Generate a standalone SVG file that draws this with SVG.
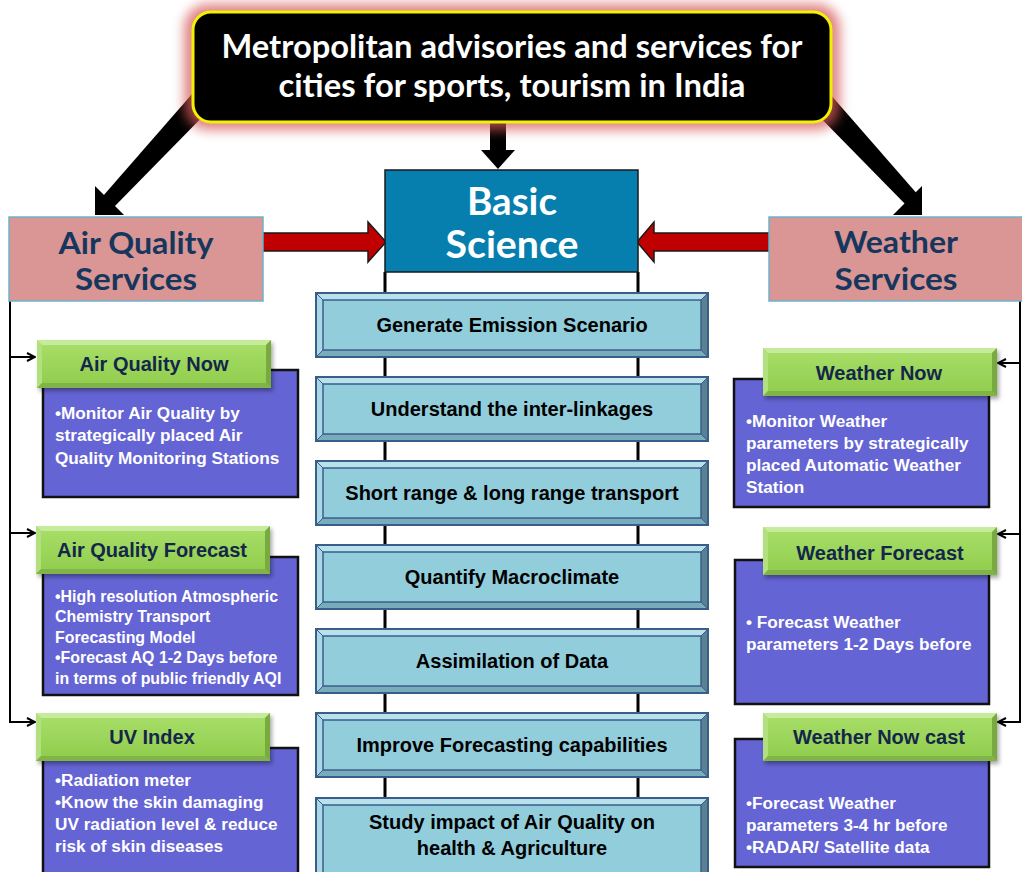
<svg xmlns="http://www.w3.org/2000/svg" xmlns:xlink="http://www.w3.org/1999/xlink" width="1022" height="872" viewBox="0 0 1022 872">
  <style>
    .title { font-family: Lato, "Open Sans", sans-serif; font-weight: 700; fill: #ffffff; }
    .svc { font-family: Lato, "Open Sans", sans-serif; font-weight: 700; fill: #17365d; font-size: 31px; }
    .step { font-family: "Liberation Sans", Arial, sans-serif; font-weight: 700; fill: #000000; font-size: 20px; }
    .head { font-family: "Liberation Sans", Arial, sans-serif; font-weight: 700; fill: #14264a; font-size: 20px; }
    .body { font-family: "Liberation Sans", Arial, sans-serif; font-weight: 700; fill: #ffffff; font-size: 17.2px; }
    .body.small { font-size: 15.9px; }
    .purple { fill: #6464d4; stroke: #111111; stroke-width: 2.5; }
    .thin { fill: none; stroke: #000000; stroke-width: 2; }
    .rail { stroke: #000000; stroke-width: 3; }
  </style>
  <defs>
    <filter id="glow" x="-20%" y="-40%" width="140%" height="180%">
      <feGaussianBlur stdDeviation="6"/>
    </filter>
    <filter id="shadow" x="-10%" y="-20%" width="125%" height="150%">
      <feDropShadow dx="2" dy="3" stdDeviation="2" flood-color="#000000" flood-opacity="0.35"/>
    </filter>
    <linearGradient id="greenFill" x1="0" y1="0" x2="0" y2="1">
      <stop offset="0" stop-color="#a9df6a"/>
      <stop offset="1" stop-color="#8fcc4c"/>
    </linearGradient>
    <marker id="open" viewBox="0 0 10 10" refX="9" refY="5" markerWidth="10" markerHeight="10" markerUnits="userSpaceOnUse" orient="auto">
      <path d="M1,1 L9,5 L1,9" fill="none" stroke="#000000" stroke-width="2"/>
    </marker>
    <!-- bevelled step plate, 394 x 66 -->
    <g id="plate">
      <rect x="0" y="0" width="394" height="66" fill="#92cddc"/>
      <polygon points="0,0 394,0 386,8 8,8" fill="#b9e1eb"/>
      <polygon points="0,0 8,8 8,58 0,66" fill="#a9d8e4"/>
      <polygon points="394,0 394,66 386,58 386,8" fill="#5b8090"/>
      <polygon points="0,66 8,58 386,58 394,66" fill="#78acbb"/>
      <path d="M0,0 L8,8 M394,0 L386,8 M0,66 L8,58 M394,66 L386,58" stroke="#3a5e8c" stroke-width="1"/>
      <rect x="8" y="8" width="378" height="50" fill="none" stroke="#3a5e8c" stroke-width="1.5"/>
      <rect x="1" y="1" width="392" height="64" fill="none" stroke="#3a5e8c" stroke-width="2"/>
    </g>
    <!-- taller plate for the last step -->
    <g id="plateTall">
      <rect x="0" y="0" width="394" height="90" fill="#92cddc"/>
      <polygon points="0,0 394,0 386,8 8,8" fill="#b9e1eb"/>
      <polygon points="0,0 8,8 8,82 0,90" fill="#a9d8e4"/>
      <polygon points="394,0 394,90 386,82 386,8" fill="#5b8090"/>
      <polygon points="0,90 8,82 386,82 394,90" fill="#78acbb"/>
      <path d="M0,0 L8,8 M394,0 L386,8" stroke="#3a5e8c" stroke-width="1"/>
      <rect x="8" y="8" width="378" height="74" fill="none" stroke="#3a5e8c" stroke-width="1.5"/>
      <rect x="1" y="1" width="392" height="88" fill="none" stroke="#3a5e8c" stroke-width="2"/>
    </g>
    <!-- green header tab, 234 x 48 -->
    <g id="tab">
      <rect x="0" y="0" width="234" height="48" fill="url(#greenFill)"/>
      <polygon points="0,0 234,0 229,5 5,5" fill="#c6eb9c"/>
      <polygon points="0,0 5,5 5,43 0,48" fill="#b2e07e"/>
      <polygon points="234,0 234,48 229,43 229,5" fill="#78aa40"/>
      <polygon points="0,48 5,43 229,43 234,48" fill="#80b448"/>
    </g>
  </defs>

  <rect width="1022" height="872" fill="#ffffff"/>

  <!-- connectors -->
  <g id="connectors">
    <!-- vertical rails behind the science steps -->
    <line class="rail" x1="385" y1="272" x2="385" y2="872"/>
    <line class="rail" x1="638" y1="272" x2="638" y2="872"/>

    <!-- heavy black arrows from the headline -->
    <g fill="#000000">
      <polygon points="199,86 216,103 114,207 103,196"/>
      <polygon points="95,215 95,186 124,215"/>
      <polygon points="823,86 806,103 908,207 919,196"/>
      <polygon points="922,215 922,186 893,215"/>
      <rect x="490" y="118" width="16" height="34"/>
      <polygon points="481,150 515,150 498,169"/>
    </g>

    <!-- red arrows into Basic Science -->
    <g fill="#c00000" stroke="#1a1a1a" stroke-width="1.5" stroke-linejoin="miter">
      <polygon points="263,233 368,233 368,222 386,242 368,262 368,251 263,251"/>
      <polygon points="769,233 654,233 654,222 637,242 654,262 654,251 769,251"/>
    </g>

    <!-- left service branches -->
    <path class="thin" d="M10,301 V722 H35" marker-end="url(#open)"/>
    <path class="thin" d="M10,357 H35" marker-end="url(#open)"/>
    <path class="thin" d="M10,533 H35" marker-end="url(#open)"/>

    <!-- right service branches -->
    <path class="thin" d="M1020,301 V722 H998" marker-end="url(#open)"/>
    <path class="thin" d="M1020,363 H998" marker-end="url(#open)"/>
    <path class="thin" d="M1020,534 H998" marker-end="url(#open)"/>
  </g>

  <!-- headline -->
  <g id="headline">
    <rect x="184" y="4" width="656" height="126" rx="24" fill="#d65a5a" opacity="0.75" filter="url(#glow)"/>
    <rect x="193" y="12" width="638" height="110" rx="18" fill="#000000" stroke="#f2f200" stroke-width="3"/>
    <text class="title" x="512" y="58" text-anchor="middle" font-size="33" textLength="581" lengthAdjust="spacingAndGlyphs">Metropolitan advisories and services for</text>
    <text class="title" x="512" y="97" text-anchor="middle" font-size="33" textLength="467" lengthAdjust="spacingAndGlyphs">cities for sports, tourism in India</text>
  </g>

  <!-- Basic Science -->
  <g id="basic-science">
    <rect x="385" y="170" width="253" height="102" fill="#077fae" stroke="#1a1a1a" stroke-width="1.5"/>
    <text class="title" x="512" y="215" text-anchor="middle" font-size="38" textLength="90" lengthAdjust="spacingAndGlyphs">Basic</text>
    <text class="title" x="512" y="258" text-anchor="middle" font-size="38" textLength="133" lengthAdjust="spacingAndGlyphs">Science</text>
  </g>

  <!-- Air Quality Services -->
  <g id="air-quality-services">
    <rect x="9" y="217" width="254" height="84" fill="#d99694" stroke="#6fb2cc" stroke-width="1.5"/>
    <text class="svc" x="136" y="254" text-anchor="middle" textLength="155" lengthAdjust="spacingAndGlyphs">Air Quality</text>
    <text class="svc" x="136" y="290" text-anchor="middle" textLength="122" lengthAdjust="spacingAndGlyphs">Services</text>
  </g>

  <!-- Weather Services -->
  <g id="weather-services">
    <rect x="769" y="217" width="260" height="84" fill="#d99694" stroke="#6fb2cc" stroke-width="1.5"/>
    <text class="svc" x="896" y="253" text-anchor="middle" textLength="124" lengthAdjust="spacingAndGlyphs">Weather</text>
    <text class="svc" x="896" y="290" text-anchor="middle" textLength="123" lengthAdjust="spacingAndGlyphs">Services</text>
  </g>

  <!-- science steps -->
  <g id="step-emission">
    <use xlink:href="#plate" x="315" y="292"/>
    <text class="step" x="512" y="332" text-anchor="middle">Generate Emission Scenario</text>
  </g>
  <g id="step-linkages">
    <use xlink:href="#plate" x="315" y="376"/>
    <text class="step" x="512" y="416" text-anchor="middle">Understand the inter-linkages</text>
  </g>
  <g id="step-transport">
    <use xlink:href="#plate" x="315" y="460"/>
    <text class="step" x="512" y="500" text-anchor="middle">Short range &amp; long range transport</text>
  </g>
  <g id="step-macroclimate">
    <use xlink:href="#plate" x="315" y="544"/>
    <text class="step" x="512" y="584" text-anchor="middle">Quantify Macroclimate</text>
  </g>
  <g id="step-assimilation">
    <use xlink:href="#plate" x="315" y="628"/>
    <text class="step" x="512" y="668" text-anchor="middle">Assimilation of Data</text>
  </g>
  <g id="step-forecasting">
    <use xlink:href="#plate" x="315" y="712"/>
    <text class="step" x="512" y="752" text-anchor="middle">Improve Forecasting capabilities</text>
  </g>
  <g id="step-impact">
    <use xlink:href="#plateTall" x="315" y="797"/>
    <text class="step" x="512" y="829" text-anchor="middle">Study impact of Air Quality on</text>
    <text class="step" x="512" y="855" text-anchor="middle">health &amp; Agriculture</text>
  </g>

  <!-- Air Quality Now -->
  <g id="aq-now">
    <rect class="purple" x="43" y="370" width="255" height="127"/>
    <use xlink:href="#tab" x="37" y="340" filter="url(#shadow)"/>
    <text class="head" x="154" y="371" text-anchor="middle">Air Quality Now</text>
    <text class="body" x="55" y="419">•Monitor Air Quality by</text>
    <text class="body" x="55" y="441">strategically placed Air</text>
    <text class="body" x="55" y="464">Quality Monitoring Stations</text>
  </g>

  <!-- Air Quality Forecast -->
  <g id="aq-forecast">
    <rect class="purple" x="43" y="557" width="255" height="138"/>
    <use xlink:href="#tab" x="36" y="526" filter="url(#shadow)"/>
    <text class="head" x="152" y="557" text-anchor="middle">Air Quality Forecast</text>
    <text class="body small" x="55" y="602">•High resolution Atmospheric</text>
    <text class="body small" x="55" y="622">Chemistry Transport</text>
    <text class="body small" x="55" y="643">Forecasting Model</text>
    <text class="body small" x="55" y="663">•Forecast AQ 1-2 Days before</text>
    <text class="body small" x="55" y="684">in terms of public friendly AQI</text>
  </g>

  <!-- UV Index -->
  <g id="uv-index">
    <rect class="purple" x="43" y="748" width="255" height="140"/>
    <use xlink:href="#tab" x="36" y="713" filter="url(#shadow)"/>
    <text class="head" x="152" y="744" text-anchor="middle">UV Index</text>
    <text class="body" x="55" y="786">•Radiation meter</text>
    <text class="body" x="55" y="808">•Know the skin damaging</text>
    <text class="body" x="55" y="830">UV radiation level &amp; reduce</text>
    <text class="body" x="55" y="852">risk of skin diseases</text>
  </g>

  <!-- Weather Now -->
  <g id="weather-now">
    <rect class="purple" x="734" y="379" width="255" height="128"/>
    <use xlink:href="#tab" x="763" y="348" filter="url(#shadow)"/>
    <text class="head" x="879" y="380" text-anchor="middle">Weather Now</text>
    <text class="body" x="746" y="427">•Monitor Weather</text>
    <text class="body" x="746" y="449">parameters by strategically</text>
    <text class="body" x="746" y="471">placed Automatic  Weather</text>
    <text class="body" x="746" y="493">Station</text>
  </g>

  <!-- Weather Forecast -->
  <g id="weather-forecast">
    <rect class="purple" x="735" y="560" width="254" height="144"/>
    <use xlink:href="#tab" x="763" y="527" filter="url(#shadow)"/>
    <text class="head" x="880" y="560" text-anchor="middle">Weather Forecast</text>
    <text class="body" x="746" y="628">• Forecast Weather</text>
    <text class="body" x="746" y="650">parameters 1-2 Days before</text>
  </g>

  <!-- Weather Now cast -->
  <g id="weather-nowcast">
    <rect class="purple" x="735" y="739" width="254" height="128"/>
    <use xlink:href="#tab" x="763" y="713" filter="url(#shadow)"/>
    <text class="head" x="879" y="744" text-anchor="middle">Weather Now cast</text>
    <text class="body" x="746" y="809">•Forecast Weather</text>
    <text class="body" x="746" y="831">parameters 3-4 hr before</text>
    <text class="body" x="746" y="853">•RADAR/  Satellite data</text>
  </g>
</svg>
